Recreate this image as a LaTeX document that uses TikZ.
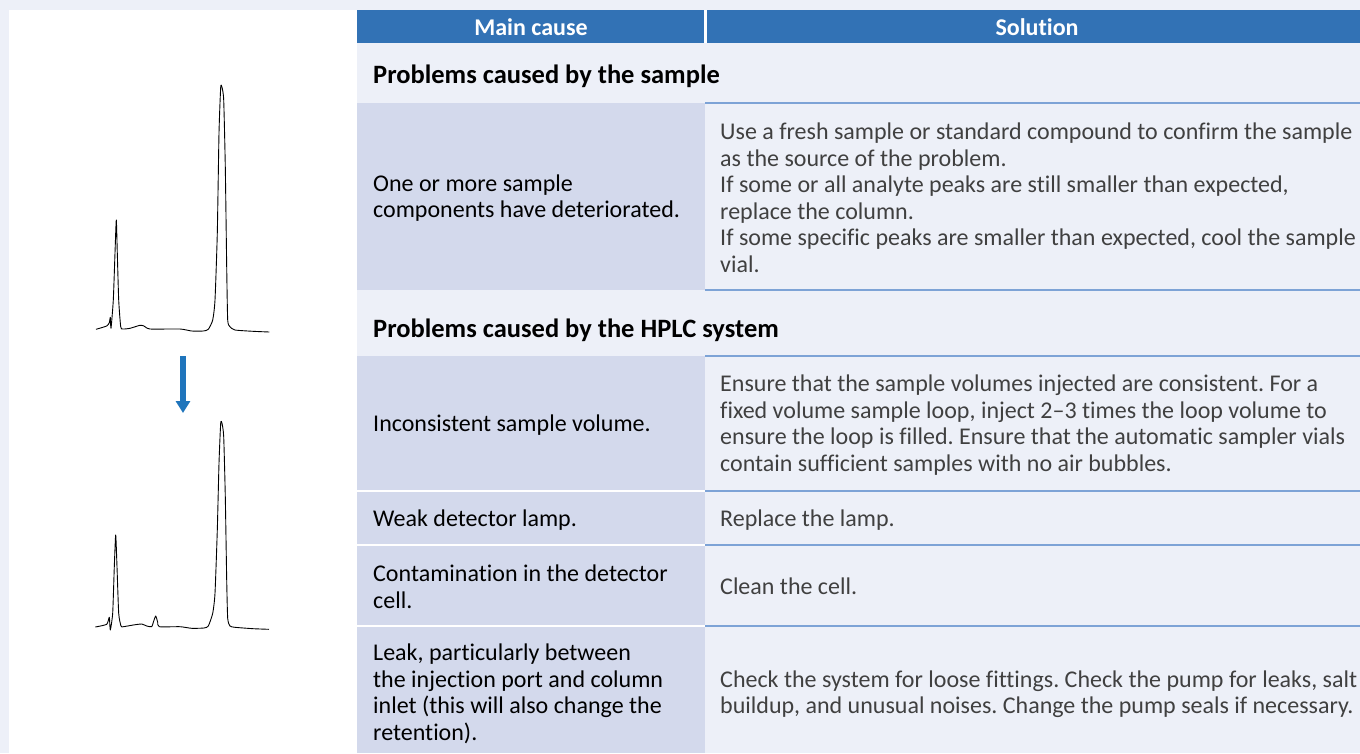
\documentclass[tikz,border=0pt]{standalone}
\usepackage{fontspec}
\setmainfont[Ligatures=NoCommon]{Carlito}
\usetikzlibrary{arrows.meta}
\frenchspacing
\definecolor{pagebg}{HTML}{EDF0F8}
\definecolor{headblue}{HTML}{3272B5}
\definecolor{causefill}{HTML}{D3D9EC}
\definecolor{rulecol}{HTML}{7DA3D6}
\definecolor{solgrey}{HTML}{404040}
\definecolor{arrowblue}{HTML}{1F75BC}
\newcommand{\tabfont}{\fontsize{24}{26.5}\selectfont}
\begin{document}
\begin{tikzpicture}[x=1pt,y=-1pt,
	every node/.style={font=\tabfont, inner sep=0pt},
	headcell/.style={text=white, font=\tabfont\bfseries},
	sectitle/.style={anchor=west, font=\fontsize{26.5}{30}\selectfont\bfseries},
	cause/.style={anchor=west, align=left, text=black},
	solution/.style={anchor=west, align=left, text=solgrey},
	rowrule/.style={draw=rulecol, line width=1.2pt},
	cellsep/.style={draw=white, line width=1.2pt},
	chrom/.style={line width=0.9pt, line join=round, smooth, tension=0.35}]
	\useasboundingbox (0,0) rectangle (1360,753);
	\fill[pagebg] (0,0) rectangle (1360,753);
	\fill[white] (9,10) rectangle (357,753);
	% header
	\fill[white] (357,10) rectangle (1360,43);
	\fill[headblue] (357,10) rectangle (704,43);
	\fill[headblue] (707,10) rectangle (1360,43);
	\node[headcell] (hdcause) at (531,27) {Main cause};
	\node[headcell] (hdsol) at (1037,27) {Solution};
	% cause cells
	\fill[causefill] (357,103) rectangle (705,290);
	\fill[causefill] (357,356) rectangle (705,753);
	\draw[cellsep] (357,491) -- (705,491);
	\draw[cellsep] (357,545) -- (705,545);
	\draw[cellsep] (357,626) -- (705,626);
	% solution rules
	\foreach \y in {103,290,356,491,545,626}
		\draw[rowrule] (705,\y) -- (1360,\y);
	% sections
	\node[sectitle] (secsample) at (373,76) {Problems caused by the sample};
	\node[sectitle] (sechplc) at (373,330) {Problems caused by the HPLC system};
	% rows
	\node[cause] (cause1) at (373,198) {One or more sample\\components have deteriorated.};
	\node[solution] (sol1) at (720,198) {Use a fresh sample or standard compound to confirm the sample\\as the source of the problem.\\If some or all analyte peaks are still smaller than expected,\\replace the column.\\If some specific peaks are smaller than expected, cool the sample\\vial.};
	\node[cause] (cause2) at (373,425) {Inconsistent sample volume.};
	\node[solution] (sol2) at (720,425) {Ensure that the sample volumes injected are consistent. For a\\fixed volume sample loop, inject 2–3 times the loop volume to\\ensure the loop is filled. Ensure that the automatic sampler vials\\contain sufficient samples with no air bubbles.};
	\node[cause] (cause3) at (373,520) {Weak detector lamp.};
	\node[solution] (sol3) at (720,520) {Replace the lamp.};
	\node[cause] (cause4) at (373,587) {Contamination in the detector\\cell.};
	\node[solution] (sol4) at (720,586) {Clean the cell.};
	\node[cause] (cause5) at (373,694) {Leak, particularly between\\the injection port and column\\inlet (this will also change the\\retention).};
	\node[solution] (sol5) at (720,694) {Check the system for loose fittings. Check the pump for leaks, salt\\buildup, and unusual noises. Change the pump seals if necessary.};
	% chromatogram before
	\draw[chrom] plot coordinates {(96,329.3) (106.7,326) (109.3,322.7) (110.3,317.3) (111,328.3)
		(113.3,300) (115,253) (116.3,220) (117.3,253) (118.7,300) (120.7,326.7) (122.7,329)
		(130,328.3) (140,325.3) (144,326) (150,329) (180,329) (191.7,331) (203.3,331)
		(208.3,329.3) (212.7,320) (215,300) (217.3,233) (219,133) (220.7,87.3) (222,87.3)
		(223.7,100) (225.3,167) (226.7,267) (227.7,320) (230,326.7) (235,330) (253,331.3) (269.3,332)};
	% arrow
	\coordinate (arrtop) at (183,356);
	\coordinate (arrtip) at (183,413);
	\draw[arrowblue, line width=5.5pt, -{Triangle[width=14pt,length=12pt]}] (arrtop) -- (arrtip);
	% chromatogram after
	\draw[chrom] plot coordinates {(95.3,627) (106.7,624.3) (109.3,617.3) (110.3,630) (112.7,613)
		(114.3,566.7) (115.7,535) (117,566.7) (118.7,613.3) (121,626) (123.3,626.7) (133.3,625)
		(141.7,624) (146.7,626) (151.7,626.7) (153.3,622.3) (155.7,616) (157.7,622.3) (159.3,626.7)
		(180,626.7) (191.7,628.3) (204,628) (208.3,626) (212.7,613.3) (215,593.3) (217.3,530)
		(219,463.3) (220.7,423.3) (222,423.3) (223.7,436.7) (225.3,496.7) (226.7,580) (227.7,618.3)
		(230,626) (235,627.3) (253.3,628.7) (269,629.3)};
\end{tikzpicture}
\end{document}
